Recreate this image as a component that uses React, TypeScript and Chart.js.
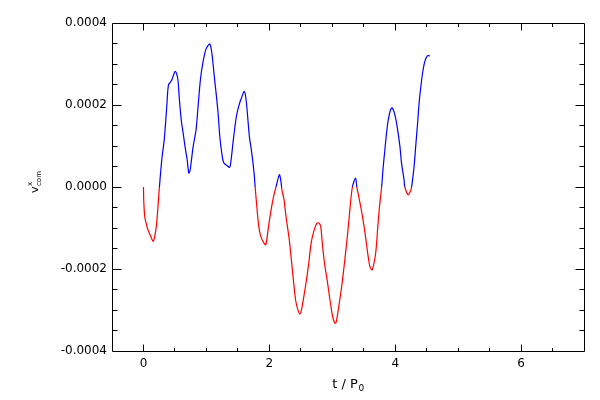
import React, { useEffect, useRef } from "react";
import { Chart, registerables } from "chart.js";

Chart.register(...registerables);

// time in units of P0
const tValues = [
  0.0, 0.005, 0.02, 0.04, 0.07, 0.12, 0.154, 0.18, 0.21, 0.25, 0.254, 0.276, 0.297, 0.33, 0.355, 0.37, 0.385,
  0.4, 0.43, 0.455, 0.48, 0.503, 0.53, 0.55, 0.571, 0.6, 0.63, 0.66, 0.694, 0.72, 0.74, 0.757, 0.79, 0.836, 0.868,
  0.905, 0.943, 0.99, 1.03, 1.054, 1.07, 1.09, 1.12, 1.154, 1.186, 1.213, 1.244, 1.276, 1.33, 1.37, 1.397,
  1.424, 1.456, 1.48, 1.51, 1.535, 1.56, 1.598, 1.62, 1.646, 1.683, 1.72, 1.757, 1.775, 1.805, 1.832, 1.863,
  1.9, 1.943, 1.98, 2.02, 2.068, 2.106, 2.159, 2.18, 2.195, 2.2, 2.233, 2.265, 2.317, 2.355, 2.387, 2.417,
  2.45, 2.487, 2.51, 2.54, 2.583, 2.627, 2.664, 2.714, 2.757, 2.79, 2.816, 2.837, 2.857, 2.884, 2.91, 2.94,
  2.963, 3.006, 3.04, 3.06, 3.095, 3.15, 3.2, 3.24, 3.28, 3.32, 3.37, 3.39, 3.41, 3.47, 3.52, 3.57, 3.6,
  3.635, 3.69, 3.72, 3.746, 3.784, 3.81, 3.836, 3.863, 3.89, 3.927, 3.953, 3.995, 4.03, 4.075, 4.1, 4.14,
  4.153, 4.206, 4.25, 4.26, 4.27, 4.3, 4.33, 4.356, 4.38, 4.408, 4.435, 4.47, 4.51, 4.55,
];

// centre-of-mass velocity, x component
const vValues = [
  0.0, -0.000035, -0.000072, -0.000087, -0.000104, -0.000122, -0.000133, -0.00012, -0.000088, -0.000007, 0.0,
  0.000042, 0.000075, 0.000115, 0.000164, 0.000195, 0.000232, 0.00025, 0.000256, 0.000263, 0.000274, 0.000282,
  0.000275, 0.000258, 0.000213, 0.000164, 0.000132, 0.000099, 0.000067, 0.000034, 0.00004, 0.000059, 0.000099,
  0.00014, 0.000197, 0.000262, 0.000302, 0.000335, 0.000346, 0.000349, 0.000342, 0.000323, 0.000278, 0.000229,
  0.00018, 0.000123, 0.000083, 0.000059, 0.000052, 0.000048, 0.000072, 0.00011, 0.00015, 0.000175, 0.000195,
  0.000208, 0.000218, 0.000233, 0.000225, 0.000189, 0.000123, 0.000084, 0.000035, 0.0, -0.000055, -0.000096,
  -0.00012, -0.000133, -0.000141, -0.000104, -0.000063, -0.000023, 0.0, 0.00003, 0.000018, 0.0, -0.000007,
  -0.000031, -0.000072, -0.000129, -0.000185, -0.000234, -0.000275, -0.000298, -0.00031, -0.0003, -0.000275,
  -0.000234, -0.000185, -0.000137, -0.000104, -0.000088, -0.000088, -0.000096, -0.000129, -0.00016, -0.000195,
  -0.000218, -0.00025, -0.000275, -0.000316, -0.000332, -0.000331, -0.0003, -0.000242, -0.000177, -0.00012,
  -0.000055, 0.0, 0.000022, 0.0, -0.000015, -0.000063, -0.000112, -0.000169, -0.000195, -0.000202, -0.000161,
  -0.000104, -0.000055, 0.0, 0.00005, 0.000091, 0.000132, 0.000164, 0.000189, 0.000193, 0.000176, 0.000148,
  0.000099, 0.000059, 0.000018, 0.0, -0.000019, -0.000007, 0.0, 0.00001, 0.00005, 0.000107, 0.000156, 0.000205,
  0.000245, 0.000278, 0.000306, 0.00032, 0.00032,
];

const xTicks = [0, 2, 4, 6];
const xTickLabels = ["0", "2", "4", "6"];
const xMinorStep = 0.5;
const yTicks = [-0.0004, -0.0002, 0, 0.0002, 0.0004];
const yTickLabels = ["-0.0004", "-0.0002", "0.0000", "0.0002", "0.0004"];
const yMinorStep = 0.00005;

const X_MIN = -0.5;
const X_MAX = 7;
const Y_MIN = -0.0004;
const Y_MAX = 0.0004;

const POS_COLOR = "#0000ff";
const NEG_COLOR = "#ff0000";
const FONT = "DejaVu Sans";

const framePlugin = {
  id: "idlFrame",
  afterDraw(chart: any) {
    const ctx = chart.ctx as CanvasRenderingContext2D;
    const { left, right, top, bottom } = chart.chartArea;
    const xs = chart.scales.x;
    const ys = chart.scales.y;
    const L = Math.round(left) + 0.5;
    const R = Math.round(right) + 0.5;
    const T = Math.round(top) + 0.5;
    const B = Math.round(bottom) + 0.5;
    ctx.save();
    ctx.strokeStyle = "#000";
    ctx.lineWidth = 1;
    ctx.beginPath();
    ctx.rect(L, T, R - L, B - T);
    ctx.stroke();

    // x ticks (inward, top and bottom)
    ctx.beginPath();
    const nx = Math.round((X_MAX - X_MIN) / xMinorStep);
    for (let k = 1; k < nx; k++) {
      const v = X_MIN + k * xMinorStep;
      const major = xTicks.some((t) => Math.abs(t - v) < 1e-9);
      const len = major ? 7 : 3.5;
      const px = Math.floor(xs.getPixelForValue(v)) + 0.5;
      ctx.moveTo(px, B);
      ctx.lineTo(px, B - len);
      ctx.moveTo(px, T);
      ctx.lineTo(px, T + len);
    }
    // y ticks (inward, left and right)
    const ny = Math.round((Y_MAX - Y_MIN) / yMinorStep);
    for (let k = 1; k < ny; k++) {
      const v = Y_MIN + k * yMinorStep;
      const major = yTicks.some((t) => Math.abs(t - v) < 1e-12);
      const len = major ? 9 : 5;
      const py = Math.floor(ys.getPixelForValue(v)) + 0.5;
      ctx.moveTo(L, py);
      ctx.lineTo(L + len, py);
      ctx.moveTo(R, py);
      ctx.lineTo(R - len, py);
    }
    ctx.stroke();

    // x title: t / P0
    ctx.fillStyle = "#000";
    ctx.textBaseline = "alphabetic";
    ctx.textAlign = "left";
    const main = "t / P";
    const sub = "0";
    ctx.font = `13px "${FONT}"`;
    const wMain = ctx.measureText(main).width;
    ctx.font = `9px "${FONT}"`;
    const wSub = ctx.measureText(sub).width;
    const cx = (left + right) / 2;
    const x0 = cx - (wMain + wSub) / 2;
    const baseY = 388;
    ctx.font = `13px "${FONT}"`;
    ctx.fillText(main, x0, baseY);
    ctx.font = `9px "${FONT}"`;
    ctx.fillText(sub, x0 + wMain + 0.5, baseY + 3);

    // y title: v^x_com (rotated)
    ctx.translate(37.5, 193);
    ctx.rotate(-Math.PI / 2);
    ctx.font = `11px "${FONT}"`;
    ctx.fillText("v", 0, 0);
    const wv = ctx.measureText("v").width;
    ctx.font = `7px "${FONT}"`;
    ctx.fillText("x", wv + 0.5, -5.5);
    ctx.fillText("com", wv + 0.5, 3.5);
    ctx.restore();
  },
};

export default function App() {
  const canvasRef = useRef<HTMLCanvasElement | null>(null);

  useEffect(() => {
    const canvas = canvasRef.current;
    if (!canvas) return;
    const points = tValues.map((t, i) => ({ x: t, y: vValues[i] }));
    const chart = new Chart(canvas, {
      type: "line",
      data: {
        datasets: [
          {
            data: points,
            borderWidth: 1.2,
            borderColor: POS_COLOR,
            pointRadius: 0,
            tension: 0.3,
            fill: false,
            segment: {
              borderColor: (c: any) => (c.p0.parsed.y + c.p1.parsed.y >= 0 ? POS_COLOR : NEG_COLOR),
            },
          },
        ],
      },
      options: {
        animation: false,
        responsive: false,
        maintainAspectRatio: false,
        layout: { padding: { left: 0, right: 16, top: 23, bottom: 0 } },
        plugins: { legend: { display: false }, tooltip: { enabled: false }, title: { display: false } },
        scales: {
          x: {
            type: "linear",
            min: X_MIN,
            max: X_MAX,
            grid: { display: false, drawTicks: false },
            border: { display: false },
            afterBuildTicks: (s: any) => {
              s.ticks = xTicks.map((v) => ({ value: v }));
            },
            afterFit: (s: any) => {
              s.height = 49;
            },
            ticks: {
              color: "#000",
              font: { family: FONT, size: 12 },
              padding: 6,
              maxRotation: 0,
              autoSkip: false,
              callback: (_v: any, i: number) => xTickLabels[i],
            },
          },
          y: {
            type: "linear",
            min: Y_MIN,
            max: Y_MAX,
            grid: { display: false, drawTicks: false },
            border: { display: false },
            afterBuildTicks: (s: any) => {
              s.ticks = yTicks.map((v) => ({ value: v }));
            },
            afterFit: (s: any) => {
              s.width = 112;
            },
            ticks: {
              color: "#000",
              font: { family: FONT, size: 12 },
              padding: 5,
              autoSkip: false,
              callback: (_v: any, i: number) => yTickLabels[i],
            },
          },
        },
      },
      plugins: [framePlugin],
    } as any);
    return () => chart.destroy();
  }, []);

  return (
    <div style={{ position: "absolute", left: 0, top: 0, width: 600, height: 400, background: "#fff" }}>
      <canvas ref={canvasRef} width={600} height={400} style={{ display: "block" }} />
    </div>
  );
}
